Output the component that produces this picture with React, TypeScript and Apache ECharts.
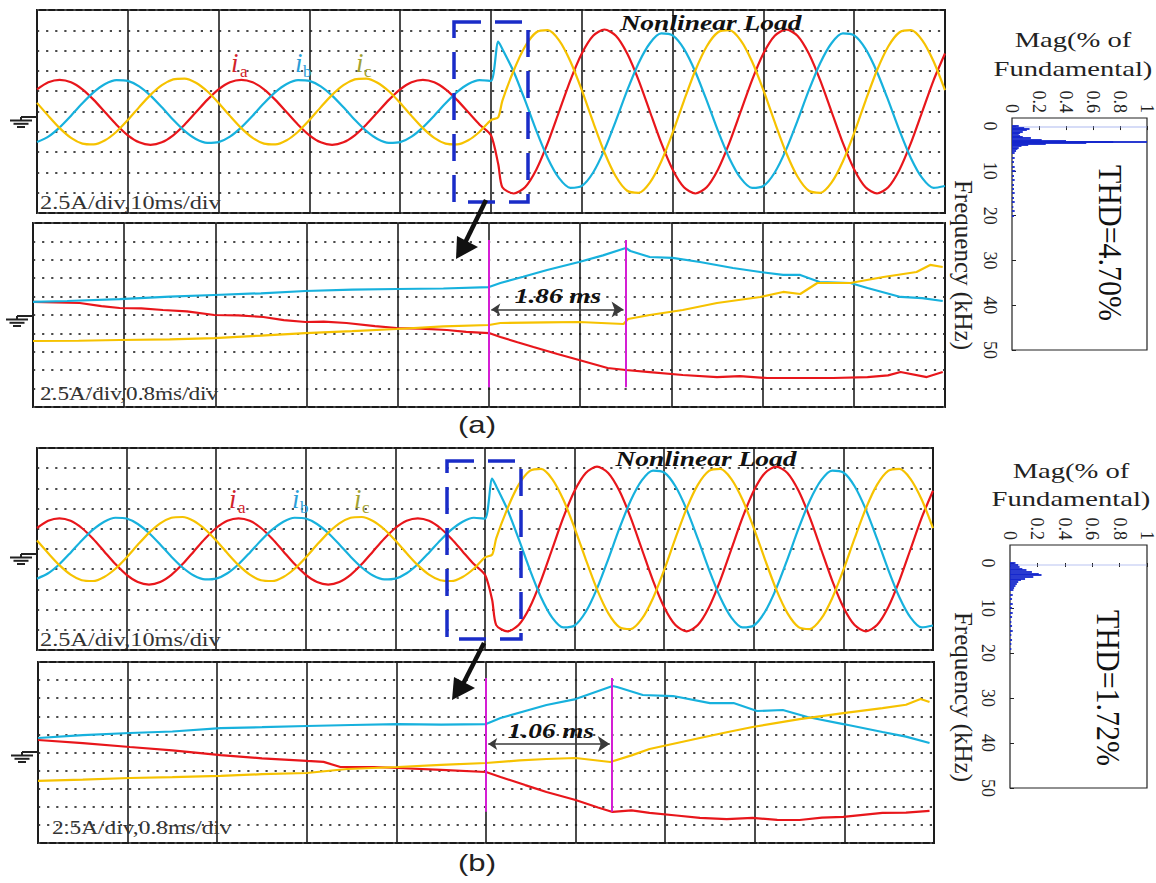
import React, { useEffect, useRef } from "react";
import * as echarts from "echarts";

// ---------- wide captures: 10 ms/div, 2.5 A/div (time in ms, current in A) ----------
const tWide = [0, 1.25, 2.5, 3.75, 5, 6.25, 7.5, 8.75, 10, 11.25, 12.5, 13.75, 15, 16.25, 17.5, 18.75, 20, 21.25, 22.5, 23.75, 25, 26.25, 27.5, 28.75, 30, 31.25, 32.5, 33.75, 35, 36.25, 37.5, 38.75, 40, 41.25, 42.5, 43.75, 45, 46.25, 47.5, 48.75, 50, 50.8, 51.25, 52.5, 53.75, 55, 56.25, 57.5, 58.75, 60, 61.25, 62.5, 63.75, 65, 66.25, 67.5, 68.75, 70, 71.25, 72.5, 73.75, 75, 76.25, 77.5, 78.75, 80, 81.25, 82.5, 83.75, 85, 86.25, 87.5, 88.75, 90, 91.25, 92.5, 93.75, 95, 96.25, 97.5, 98.75, 100];

const iaWideA = [2.73, 3.6, 3.9, 3.6, 2.73, 1.43, -0.1, -1.63, -2.93, -3.8, -4.1, -3.8, -2.93, -1.63, -0.1, 1.43, 2.73, 3.6, 3.9, 3.6, 2.73, 1.43, -0.1, -1.63, -2.93, -3.8, -4.1, -3.8, -2.93, -1.63, -0.1, 1.43, 2.73, 3.6, 3.9, 3.6, 2.73, 1.43, -0.1, -1.63, -2.93, -6.5, -9.33, -10.1, -9.33, -7.14, -3.87, 0, 3.87, 7.14, 9.33, 10.1, 9.33, 7.14, 3.87, 0, -3.87, -7.14, -9.33, -10.1, -9.33, -7.14, -3.87, 0, 3.87, 7.14, 9.33, 10.1, 9.33, 7.14, 3.87, 0, -3.87, -7.14, -9.33, -10.1, -9.33, -7.14, -3.87, 0, 3.87, 7.14];
const ibWideA = [-3.77, -3.09, -1.95, -0.51, 1.01, 2.38, 3.38, 3.86, 3.77, 3.09, 1.95, 0.51, -1.01, -2.38, -3.38, -3.86, -3.77, -3.09, -1.95, -0.51, 1.01, 2.38, 3.38, 3.86, 3.77, 3.09, 1.95, 0.51, -1.01, -2.38, -3.38, -3.86, -3.77, -3.09, -1.95, -0.51, 1.01, 2.38, 3.38, 3.86, 3.77, 8.6, 7.71, 4.9, 1.36, -2.39, -5.75, -8.21, -9.41, -9.17, -7.51, -4.7, -1.16, 2.59, 5.95, 8.41, 9.61, 9.37, 7.71, 4.9, 1.36, -2.39, -5.75, -8.21, -9.41, -9.17, -7.51, -4.7, -1.16, 2.59, 5.95, 8.41, 9.61, 9.37, 7.71, 4.9, 1.36, -2.39, -5.75, -8.21, -9.41, -9.17];
const icWideA = [1.06, -0.54, -2.05, -3.25, -3.96, -4.06, -3.55, -2.5, -1.06, 0.54, 2.05, 3.25, 3.96, 4.06, 3.55, 2.5, 1.06, -0.54, -2.05, -3.25, -3.96, -4.06, -3.55, -2.5, -1.06, 0.54, 2.05, 3.25, 3.96, 4.06, 3.55, 2.5, 1.06, -0.54, -2.05, -3.25, -3.96, -4.06, -3.55, -2.5, -1.06, -0.7, 1.32, 5.05, 8.01, 9.76, 10.01, 8.75, 6.15, 2.62, -1.32, -5.05, -8.01, -9.76, -10.01, -8.75, -6.15, -2.62, 1.32, 5.05, 8.01, 9.76, 10.01, 8.75, 6.15, 2.62, -1.32, -5.05, -8.01, -9.76, -10.01, -8.75, -6.15, -2.62, 1.32, 5.05, 8.01, 9.76, 10.01, 8.75, 6.15, 2.62];

const iaWideB = [2.6, 3.49, 3.8, 3.49, 2.6, 1.27, -0.3, -1.87, -3.2, -4.09, -4.4, -4.09, -3.2, -1.87, -0.3, 1.27, 2.6, 3.49, 3.8, 3.49, 2.6, 1.27, -0.3, -1.87, -3.2, -4.09, -4.4, -4.09, -3.2, -1.87, -0.3, 1.27, 2.6, 3.49, 3.8, 3.49, 2.6, 1.27, -0.3, -1.87, -3.2, -6.3, -9.42, -10.2, -9.42, -7.21, -3.91, 0, 3.91, 7.21, 9.42, 10.2, 9.42, 7.21, 3.91, 0, -3.91, -7.21, -9.42, -10.2, -9.42, -7.21, -3.91, 0, 3.91, 7.21, 9.42, 10.2, 9.42, 7.21, 3.91, 0, -3.91, -7.21, -9.42, -10.2, -9.42, -7.21, -3.91, 0, 3.91, 7.21];
const ibWideB = [-3.67, -3.0, -1.88, -0.45, 1.05, 2.39, 3.38, 3.87, 3.77, 3.1, 1.98, 0.55, -0.95, -2.29, -3.28, -3.77, -3.67, -3.0, -1.88, -0.45, 1.05, 2.39, 3.38, 3.87, 3.77, 3.1, 1.98, 0.55, -0.95, -2.29, -3.28, -3.77, -3.67, -3.0, -1.88, -0.45, 1.05, 2.39, 3.38, 3.87, 3.77, 8.7, 7.77, 4.9, 1.28, -2.54, -5.97, -8.49, -9.71, -9.47, -7.77, -4.9, -1.28, 2.54, 5.97, 8.49, 9.71, 9.47, 7.77, 4.9, 1.28, -2.54, -5.97, -8.49, -9.71, -9.47, -7.77, -4.9, -1.28, 2.54, 5.97, 8.49, 9.71, 9.47, 7.77, 4.9, 1.28, -2.54, -5.97, -8.49, -9.71, -9.47];
const icWideB = [1.04, -0.52, -2.0, -3.17, -3.86, -3.96, -3.46, -2.44, -1.04, 0.52, 2.0, 3.17, 3.86, 3.96, 3.46, 2.44, 1.04, -0.52, -2.0, -3.17, -3.86, -3.96, -3.46, -2.44, -1.04, 0.52, 2.0, 3.17, 3.86, 3.96, 3.46, 2.44, 1.04, -0.52, -2.0, -3.17, -3.86, -3.96, -3.46, -2.44, -1.04, -0.7, 1.31, 5.0, 7.93, 9.66, 9.91, 8.66, 6.09, 2.59, -1.31, -5.0, -7.93, -9.66, -9.91, -8.66, -6.09, -2.59, 1.31, 5.0, 7.93, 9.66, 9.91, 8.66, 6.09, 2.59, -1.31, -5.0, -7.93, -9.66, -9.91, -8.66, -6.09, -2.59, 1.31, 5.0, 7.93, 9.66, 9.91, 8.66, 6.09, 2.59];

// ---------- zoomed captures: 0.8 ms/div, 2.5 A/div ([ms, A]) ----------
const iaZoomA = [[0, 1.77], [0.2, 1.7], [0.41, 1.63], [0.6, 1.2], [0.76, 0.95], [0.95, 0.9], [1.14, 0.68], [1.35, 0.5], [1.59, 0], [1.8, -0.05], [2.02, -0.27], [2.2, -0.7], [2.39, -0.95], [2.55, -0.9], [2.75, -1.09], [3.0, -1.5], [3.19, -1.77], [3.4, -1.85], [3.63, -2.04], [3.8, -2.3], [4.0, -2.45], [4.1, -2.99], [4.25, -3.7], [4.39, -4.35], [4.6, -5.3], [4.79, -6.12], [5.04, -7.2], [5.2, -7.47], [5.41, -7.75], [5.7, -8.15], [6.0, -8.43], [6.2, -8.3], [6.44, -8.56], [6.73, -8.56], [7.02, -8.56], [7.32, -8.43], [7.5, -8.2], [7.61, -7.75], [7.84, -8.43], [7.98, -7.75]];
const ibZoomA = [[0, 1.77], [0.3, 1.9], [0.76, 2.17], [1.2, 2.5], [1.59, 2.72], [2.0, 2.95], [2.39, 3.26], [2.8, 3.45], [3.19, 3.53], [3.6, 3.6], [4.0, 3.8], [4.1, 4.35], [4.3, 5.2], [4.51, 6.12], [4.79, 7.2], [5.0, 8.1], [5.2, 9.11], [5.24, 8.7], [5.41, 7.88], [5.61, 7.75], [5.85, 7.2], [6.14, 6.39], [6.38, 5.84], [6.58, 5.44], [6.73, 5.44], [6.9, 4.48], [7.17, 4.35], [7.32, 3.67], [7.61, 2.45], [7.8, 2.3], [7.98, 1.9]];
const icZoomA = [[0, -3.53], [0.4, -3.5], [0.76, -3.4], [1.2, -3.3], [1.59, -3.13], [2.0, -2.8], [2.39, -2.45], [2.8, -2.2], [3.19, -1.9], [3.6, -1.55], [4.0, -1.36], [4.1, -1.09], [4.5, -1.0], [4.79, -0.95], [5.18, -1.22], [5.22, -0.54], [5.41, 0], [5.7, 0.68], [6.0, 1.63], [6.38, 2.45], [6.58, 3.13], [6.73, 2.85], [6.88, 4.35], [7.17, 4.35], [7.46, 5.16], [7.75, 5.84], [7.87, 6.8], [7.98, 6.52]];

const iaZoomB = [[0, 1.73], [0.4, 1.3], [0.82, 0.76], [1.2, 0.3], [1.63, -0.35], [2.0, -0.8], [2.4, -1.17], [2.55, -1.3], [2.7, -2.0], [3.0, -2.0], [3.21, -2.14], [3.6, -2.4], [4.0, -2.69], [4.13, -3.38], [4.35, -4.5], [4.54, -5.45], [4.8, -6.56], [5.0, -7.6], [5.13, -8.21], [5.3, -8.0], [5.46, -8.35], [5.7, -8.7], [5.91, -9.04], [6.15, -9.2], [6.38, -9.04], [6.6, -9.3], [6.8, -9.32], [7.0, -9.0], [7.19, -8.9], [7.54, -8.35], [7.75, -8.3], [7.96, -8.07]];
const ibZoomB = [[0, 2.0], [0.4, 2.4], [0.82, 2.69], [1.2, 2.9], [1.63, 3.38], [2.0, 3.5], [2.4, 3.66], [2.8, 3.8], [3.21, 3.93], [3.6, 3.85], [4.0, 3.93], [4.13, 4.76], [4.54, 6.56], [4.8, 7.38], [5.13, 9.18], [5.17, 9.04], [5.4, 7.94], [5.67, 7.8], [6.0, 6.83], [6.21, 6.83], [6.42, 5.73], [6.65, 5.87], [6.87, 4.9], [7.19, 3.93], [7.54, 2.83], [7.75, 2.2], [7.96, 1.31]];
const icZoomB = [[0, -3.93], [0.4, -3.75], [0.82, -3.52], [1.2, -3.4], [1.63, -3.24], [2.0, -3.0], [2.4, -2.83], [2.76, -2.28], [3.21, -2.0], [3.6, -1.7], [4.0, -1.45], [4.3, -1.1], [4.54, -0.9], [4.8, -0.76], [5.11, -1.31], [5.3, -0.4], [5.46, 0.48], [5.91, 2.0], [6.15, 2.8], [6.38, 3.52], [6.8, 4.62], [7.19, 5.45], [7.54, 6.14], [7.75, 6.6], [7.88, 7.38], [7.96, 6.97]];

// cursors (ms) and the span of the cursor lines (A)
const cursorsA = [4.0, 5.2];
const cursorsB = [4.0, 5.125];
const cursorSpanA = [10.2, -9.8];
const cursorSpanB = [10.3, -8.2];
const spanLevelA = 0.75;
const spanLevelB = 1.17;
const spanTextA = "1.86 ms";
const spanTextB = "1.06 ms";

// ---------- spectra (kHz, fraction of fundamental) ----------
const specFreqA = [0, 0.3, 0.6, 0.9, 1.2, 1.5, 1.8, 2.1, 2.4, 2.7, 3.0, 3.2, 3.4, 3.55, 3.7, 3.9, 4.2, 4.5, 4.8, 5.1, 5.5, 6, 7, 8, 9, 10, 11, 12, 13, 14, 15, 16, 17, 18, 19, 20];
const specMagA = [0.05, 0.09, 0.13, 0.11, 0.08, 0.06, 0.05, 0.06, 0.08, 0.14, 0.22, 0.4, 0.75, 1.0, 0.55, 0.25, 0.12, 0.07, 0.05, 0.04, 0.03, 0.02, 0.02, 0.015, 0.02, 0.025, 0.015, 0.02, 0.015, 0.015, 0.02, 0.015, 0.02, 0.01, 0.02, 0.015];
const specFreqB = [0, 0.4, 0.8, 1.2, 1.6, 2.0, 2.4, 2.7, 3.0, 3.4, 3.8, 4.2, 4.6, 5.0, 5.5, 6, 7, 8, 9, 10, 11, 12, 13, 14, 15, 16, 17, 18, 19];
const specMagB = [0.04, 0.06, 0.07, 0.09, 0.12, 0.16, 0.21, 0.23, 0.17, 0.11, 0.08, 0.06, 0.05, 0.04, 0.03, 0.025, 0.02, 0.015, 0.02, 0.015, 0.02, 0.015, 0.01, 0.015, 0.02, 0.01, 0.015, 0.01, 0.01];
const faintFreqA = [0.2];
const faintMagA = [1.0];
const faintFreqB = [0.4];
const faintMagB = [1.0];
const magTicks = [0, 0.2, 0.4, 0.6, 0.8, 1];
const freqTicks = [0, 10, 20, 30, 40, 50];
const thdA = "THD=4.70%";
const thdB = "THD=1.72%";

const RED = "#e8161b";
const BLUE = "#17b1dd";
const YEL = "#f6c200";
const MAG = "#d41ed4";
const SERIF = '"Liberation Serif", "DejaVu Serif", serif';

function txt(x: number, y: number, text: string, font: string, fill: string, o: any = {}) {
  return {
    type: "text",
    x,
    y,
    z: 100,
    rotation: o.rot || 0,
    scaleX: o.sx || 1,
    scaleY: o.sy || 1,
    style: {
      text,
      font,
      fill,
      align: o.align || "left",
      verticalAlign: "middle",
      textAlign: o.align || "left",
      textVerticalAlign: "middle",
    },
  };
}

function ln(x1: number, y1: number, x2: number, y2: number, stroke: string, w: number) {
  return { type: "line", z: 100, shape: { x1, y1, x2, y2 }, style: { stroke, lineWidth: w } };
}

function ground(xf: number, y: number) {
  const ax = xf - 16;
  return [
    ln(ax, y, xf, y, "#222", 2),
    ln(ax, y, ax, y + 3.5, "#222", 2),
    ln(ax - 11, y + 3.5, ax + 11, y + 3.5, "#222", 2),
    ln(ax - 7.5, y + 6.8, ax + 7.5, y + 6.8, "#222", 2),
    ln(ax - 4, y + 10, ax + 4, y + 10, "#222", 2),
  ];
}

function oscX(i: number, max: number, interval: number) {
  return {
    type: "value", gridIndex: i, min: 0, max, interval,
    axisLine: { show: false }, axisTick: { show: false }, axisLabel: { show: false },
    splitLine: { show: true, lineStyle: { color: "#1e1e1e", width: 1.6 } },
  };
}
function oscY(i: number) {
  return {
    type: "value", gridIndex: i, min: -12.5, max: 12.5, interval: 2.5,
    axisLine: { show: false }, axisTick: { show: false }, axisLabel: { show: false },
    splitLine: { show: true, lineStyle: { color: "#4a4a4a", width: 2.2, type: [2.2, 6.9] } },
  };
}
function trace(i: number, data: any[], color: string, smooth: number | boolean) {
  return {
    type: "line", xAxisIndex: i, yAxisIndex: i, data, smooth,
    symbol: "none", lineStyle: { color, width: 2.2 }, z: 3, silent: true,
  };
}
function specX(i: number) {
  return {
    type: "value", gridIndex: i, position: "top", min: 0, max: 1,
    axisLine: { show: false },
    axisTick: { show: true, inside: true, length: 4, customValues: magTicks, lineStyle: { color: "#222" } },
    axisLabel: { show: true, rotate: -90, margin: 5, fontSize: 18, fontFamily: SERIF, color: "#222", customValues: magTicks },
    splitLine: { show: false },
  };
}
function specY(i: number, min: number) {
  return {
    type: "value", gridIndex: i, inverse: true, min, max: 50,
    axisLine: { show: false },
    axisTick: { show: true, inside: true, length: 4, customValues: freqTicks, lineStyle: { color: "#222" } },
    axisLabel: { show: true, rotate: -90, margin: 13, fontSize: 18, fontFamily: SERIF, color: "#222", customValues: freqTicks },
    splitLine: { show: false },
  };
}
function stems(i: number, freqs: number[], mags: number[], color: string, opacity: number, width: number) {
  return {
    type: "lines", coordinateSystem: "cartesian2d", xAxisIndex: i, yAxisIndex: i, silent: true, z: 3,
    data: freqs.map((f, k) => ({ coords: [[0, f], [mags[k], f]] })),
    lineStyle: { width, opacity, color },
  };
}

function buildOption() {
  const pair = (vals: number[]) => tWide.map((t, k) => [t, vals[k]]);
  const cursorLines = (i: number, cs: number[], span: number[]) => ({
    type: "lines", coordinateSystem: "cartesian2d", xAxisIndex: i, yAxisIndex: i, silent: true, z: 4,
    data: cs.map((c) => ({ coords: [[c, span[0]], [c, span[1]]] })),
    lineStyle: { color: MAG, width: 2, opacity: 1 },
  });
  const spanArrow = (i: number, cs: number[], lvl: number) => ({
    type: "lines", coordinateSystem: "cartesian2d", xAxisIndex: i, yAxisIndex: i, silent: true, z: 5,
    symbol: ["arrow", "arrow"], symbolSize: [9, 12],
    data: [{ coords: [[cs[0] + 0.02, lvl], [cs[1] - 0.02, lvl]] }],
    lineStyle: { color: "#3a3a3a", width: 1.6, opacity: 1 },
  });

  const graphic: any[] = [
    txt(711, 22, "Nonlinear Load", `italic bold 22px ${SERIF}`, "#111", { align: "center", sx: 1.25 }),
    txt(706, 458, "Nonlinear Load", `italic bold 22px ${SERIF}`, "#111", { align: "center", sx: 1.25 }),
    txt(40, 203, "2.5A/div,10ms/div", `19px ${SERIF}`, "#333", { sx: 1.28 }),
    txt(40, 394, "2.5A/div,0.8ms/div", `19px ${SERIF}`, "#333", { sx: 1.22 }),
    txt(40, 640, "2.5A/div,10ms/div", `19px ${SERIF}`, "#333", { sx: 1.28 }),
    txt(52, 828, "2.5A/div,0.8ms/div", `19px ${SERIF}`, "#333", { sx: 1.23 }),
    txt(231, 63, "i", `italic 27px ${SERIF}`, "#d2232a"),
    txt(240, 71, "a", `17px ${SERIF}`, "#d2232a"),
    txt(295, 63, "i", `italic 27px ${SERIF}`, "#2b9ed8"),
    txt(303, 71, "b", `17px ${SERIF}`, "#2b9ed8"),
    txt(356, 63, "i", `italic 27px ${SERIF}`, "#a3a230"),
    txt(364, 71, "c", `17px ${SERIF}`, "#a3a230"),
    txt(229, 499, "i", `italic 27px ${SERIF}`, "#d2232a"),
    txt(238, 507, "a", `17px ${SERIF}`, "#d2232a"),
    txt(292, 499, "i", `italic 27px ${SERIF}`, "#2b9ed8"),
    txt(300, 507, "b", `17px ${SERIF}`, "#2b9ed8"),
    txt(354, 499, "i", `italic 27px ${SERIF}`, "#a3a230"),
    txt(362, 507, "c", `17px ${SERIF}`, "#a3a230"),
    txt(558, 296, spanTextA, `italic bold 21px ${SERIF}`, "#111", { align: "center", sx: 1.3 }),
    txt(551, 731, spanTextB, `italic bold 21px ${SERIF}`, "#111", { align: "center", sx: 1.3 }),
    { type: "rect", z: 100, shape: { x: 454, y: 22, width: 74, height: 180 }, style: { fill: "none", stroke: "#1a2cc8", lineWidth: 3.5, lineDash: [27, 14] } },
    { type: "rect", z: 100, shape: { x: 447, y: 461, width: 74, height: 178 }, style: { fill: "none", stroke: "#1a2cc8", lineWidth: 3.5, lineDash: [27, 14] } },
    ln(486, 200, 463, 247, "#111", 4.5),
    { type: "polygon", z: 100, shape: { points: [[456, 259], [457, 236], [478, 247]] }, style: { fill: "#111" } },
    ln(484, 643, 461, 688, "#111", 4.5),
    { type: "polygon", z: 100, shape: { points: [[452, 700], [454, 677], [475, 688]] }, style: { fill: "#111" } },
    txt(477, 425, "(a)", `23px "Liberation Sans", Arial, sans-serif`, "#222", { align: "center", sx: 1.35 }),
    txt(477, 863, "(b)", `23px "Liberation Sans", Arial, sans-serif`, "#222", { align: "center", sx: 1.35 }),
    txt(1073, 40, "Mag(% of", `22px ${SERIF}`, "#222", { align: "center", sx: 1.3 }),
    txt(1073, 69, "Fundamental)", `22px ${SERIF}`, "#222", { align: "center", sx: 1.3 }),
    txt(1071, 471, "Mag(% of", `22px ${SERIF}`, "#222", { align: "center", sx: 1.3 }),
    txt(1071, 499, "Fundamental)", `22px ${SERIF}`, "#222", { align: "center", sx: 1.3 }),
    txt(963, 265, "Frequency (kHz)", `25px ${SERIF}`, "#222", { align: "center", rot: -Math.PI / 2 }),
    txt(963, 697, "Frequency (kHz)", `25px ${SERIF}`, "#222", { align: "center", rot: -Math.PI / 2 }),
    txt(1111, 243, thdA, `30px ${SERIF}`, "#111", { align: "center", rot: -Math.PI / 2, sy: 1.15 }),
    txt(1109, 688, thdB, `30px ${SERIF}`, "#111", { align: "center", rot: -Math.PI / 2, sy: 1.15 }),
    ...ground(37, 117),
    ...ground(33, 316),
    ...ground(37, 554),
    ...ground(38, 752),
  ];

  return {
    animation: false,
    backgroundColor: "#ffffff",
    grid: [
      { left: 37, top: 10, width: 908, height: 203, show: true, borderColor: "#1a1a1a", borderWidth: 2 },
      { left: 33, top: 223, width: 912, height: 184, show: true, borderColor: "#1a1a1a", borderWidth: 2 },
      { left: 37, top: 448, width: 896, height: 202, show: true, borderColor: "#1a1a1a", borderWidth: 2 },
      { left: 38, top: 662, width: 896, height: 181, show: true, borderColor: "#1a1a1a", borderWidth: 2 },
      { left: 1012, top: 118, width: 136, height: 232, show: true, borderColor: "#222", borderWidth: 1.2 },
      { left: 1010, top: 545, width: 137, height: 243, show: true, borderColor: "#222", borderWidth: 1.2 },
    ],
    xAxis: [oscX(0, 100, 10), oscX(1, 8, 0.8), oscX(2, 100, 10), oscX(3, 8, 0.8), specX(4), specX(5)],
    yAxis: [oscY(0), oscY(1), oscY(2), oscY(3), specY(4, -1.8), specY(5, -4)],
    series: [
      trace(0, pair(iaWideA), RED, 0.25),
      trace(0, pair(ibWideA), BLUE, 0.25),
      trace(0, pair(icWideA), YEL, 0.25),
      trace(1, iaZoomA, RED, false),
      trace(1, ibZoomA, BLUE, false),
      trace(1, icZoomA, YEL, false),
      cursorLines(1, cursorsA, cursorSpanA),
      spanArrow(1, cursorsA, spanLevelA),
      trace(2, pair(iaWideB), RED, 0.25),
      trace(2, pair(ibWideB), BLUE, 0.25),
      trace(2, pair(icWideB), YEL, 0.25),
      trace(3, iaZoomB, RED, false),
      trace(3, ibZoomB, BLUE, false),
      trace(3, icZoomB, YEL, false),
      cursorLines(3, cursorsB, cursorSpanB),
      spanArrow(3, cursorsB, spanLevelB),
      stems(4, faintFreqA, faintMagA, "#8a9ae8", 0.35, 2),
      stems(4, specFreqA, specMagA, "#1326cc", 0.9, 2),
      stems(5, faintFreqB, faintMagB, "#8a9ae8", 0.3, 2),
      stems(5, specFreqB, specMagB, "#1326cc", 0.9, 2),
    ],
    graphic,
  };
}

export default function App() {
  const ref = useRef<HTMLDivElement>(null);
  useEffect(() => {
    if (!ref.current) return;
    const chart = echarts.init(ref.current, null, { renderer: "svg" });
    chart.setOption(buildOption() as any);
    return () => chart.dispose();
  }, []);
  return (
    <div
      ref={ref}
      style={{ position: "absolute", left: 0, top: 0, width: 1156, height: 883, background: "#fff" }}
    />
  );
}
